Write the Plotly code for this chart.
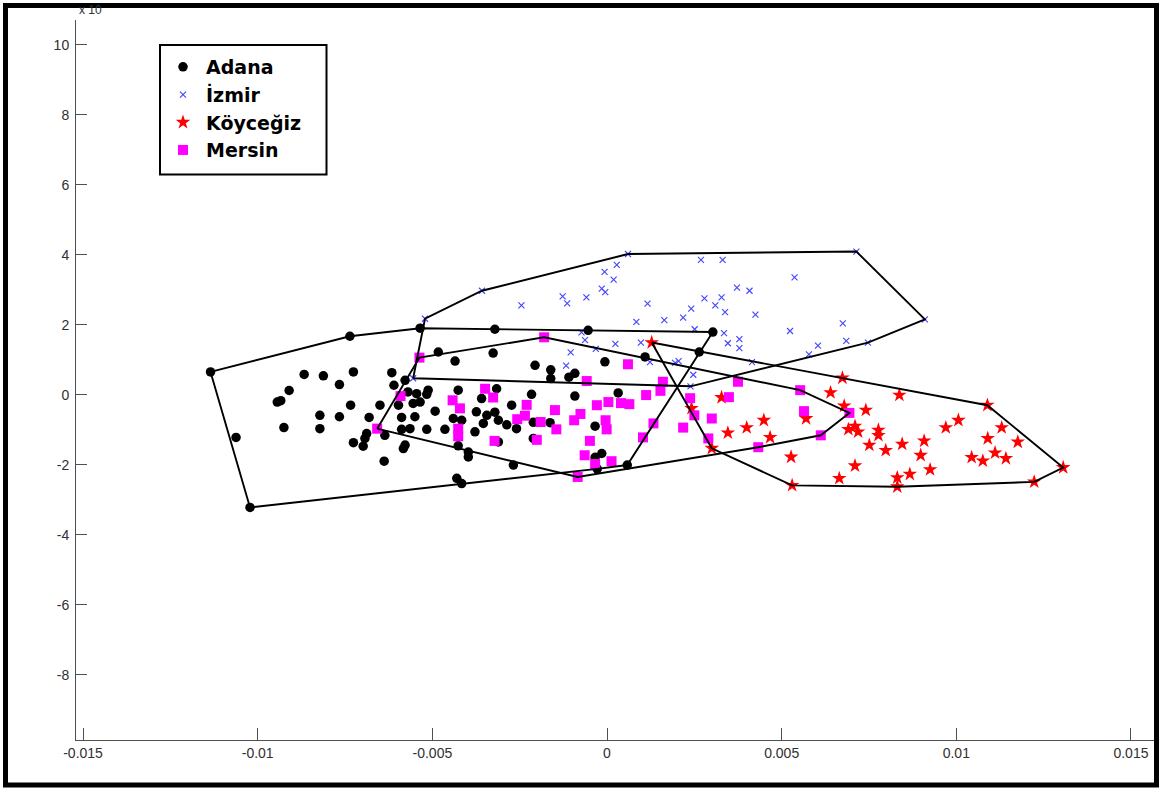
import plotly.graph_objects as go

# ---- data (x values in units of 1e-3, y values as shown on the axis, x 10^-3) ----
adana_x = [-11.35, -7.36, -8.67, -8.12, -7.26, -7.66, -9.10, -9.44, -9.34, -7.34,
           -8.22, -7.66, -9.25, -8.22, -10.62, -10.22, -6.16, -6.10, -5.78, -6.50,
           -6.81, -7.26, -6.98, -6.88, -6.93, -6.38, -6.36, -5.97, -5.88, -5.88,
           -5.78, -5.83, -5.35, -4.83, -4.35, -5.70, -5.45, -5.12, -5.16, -5.35,
           -5.55, -4.26, -4.92, -5.50, -4.40, -4.16, -3.74, -3.59, -3.44, -3.54,
           -5.64, -5.16, -4.64, -3.78, -4.26, -3.97, -3.97, -4.30, -4.16, -3.21,
           -3.26, -2.06, -1.61, -1.61, -1.09, -0.92, -3.16, -2.16, -2.73, -3.21,
           -3.11, -2.87, -2.59, -2.11, -1.63, -2.11, -3.11, -2.68, -0.54, 3.03,
           2.64, 1.09, -0.06, 0.32, -0.92, -0.34, -0.15, -0.34, -0.28, 0.58]
adana_y = [0.65, 1.67, 0.58, 0.54, 0.65, 0.29, 0.12, -0.21, -0.17, -0.30,
           -0.59, -0.63, -0.94, -0.97, -1.22, -3.22, 0.63, 0.27, 0.41, -0.30,
           -0.65, -1.37, -1.47, -1.11, -1.25, -1.90, -1.16, -0.30, -0.65, -0.99,
           -1.44, -1.54, 1.90, 1.22, 0.96, 0.08, 0.03, 0.13, 0.01, -0.21,
           -0.25, 0.13, -0.47, -0.63, -0.68, -0.73, -0.49, -0.11, -0.59, -0.82,
           -0.97, -0.99, -0.99, -1.06, -1.46, -1.64, -1.78, -2.39, -2.54, 1.87,
           1.19, 0.84, 0.71, 0.46, 0.50, 0.61, 0.17, 0.01, -0.30, -0.50,
           -0.73, -0.86, -0.97, -0.79, -0.80, -1.25, -1.35, -2.01, 1.84, 1.79,
           1.22, 1.08, 0.94, 0.05, -0.04, -0.90, -1.68, -1.79, -2.12, -2.01]

izmir_x = [-5.21, -5.55, -3.58, -2.45, -1.27, -1.14, -0.59, -0.15, -0.05, -0.07,
           0.19, 0.28, 0.60, 2.69, 3.31, 5.37, 7.14, 3.72, 4.08, 2.79,
           3.28, 3.10, 3.38, 4.25, 1.16, 2.41, 2.18, 1.64, 0.84, 2.51,
           3.35, 3.79, 3.79, 3.46, 5.24, 6.75, 6.85, 7.47, 6.04, 5.78,
           4.15, 9.10, -1.04, -1.17, -0.32, -0.63, -0.73, 0.24, 0.97, 1.23,
           1.95, 2.05, 2.47, 2.39]
izmir_y = [2.17, 0.47, 2.97, 2.55, 2.81, 2.61, 2.78, 3.03, 2.93, 3.51,
           3.29, 3.71, 4.02, 3.85, 3.85, 3.35, 4.09, 3.06, 2.97, 2.75,
           2.78, 2.55, 2.36, 2.29, 2.60, 2.46, 2.20, 2.13, 2.08, 1.87,
           1.76, 1.59, 1.33, 1.47, 1.82, 2.04, 1.54, 1.49, 1.40, 1.15,
           0.93, 2.15, 1.21, 0.83, 1.31, 1.56, 1.78, 1.45, 1.49, 0.93,
           0.91, 0.96, 0.57, 0.24]

koycegiz_x = [1.28, 6.74, 6.40, 8.37, 10.89, 3.28, 2.42, 6.79, 7.41, 5.70,
              4.49, 4.00, 3.46, 4.67, 6.91, 7.10, 7.19, 7.77, 7.77, 7.51,
              7.98, 8.45, 9.08, 8.98, 10.06, 9.70, 11.30, 10.90, 11.76, 10.44,
              10.76, 11.11, 11.42, 5.27, 7.10, 6.65, 8.31, 8.67, 9.25, 8.31,
              5.30, 12.23, 13.06, 3.00]
koycegiz_y = [1.49, 0.48, 0.06, -0.01, -0.30, -0.08, -0.39, -0.32, -0.44, -0.68,
              -0.73, -0.94, -1.09, -1.22, -0.99, -0.90, -1.06, -1.01, -1.16, -1.44,
              -1.59, -1.41, -1.32, -1.73, -0.73, -0.94, -0.94, -1.25, -1.35, -1.79,
              -1.89, -1.66, -1.82, -1.78, -2.03, -2.39, -2.37, -2.27, -2.14, -2.63,
              -2.59, -2.49, -2.08, -1.53]

mersin_x = [-5.37, -6.58, -5.91, -1.80, -3.49, -3.26, -4.42, -4.21, -2.30, -2.35,
            -2.57, -1.90, -1.49, -1.45, -4.26, -4.26, -3.22, -2.01, 0.60, -0.58,
            1.60, 1.53, 1.12, 2.38, 0.04, -0.29, 0.40, 0.64, -0.76, -0.94,
            -0.04, -0.01, 1.33, 2.50, 3.00, 2.18, 1.03, 2.90, -0.49, -0.64,
            -0.34, 0.13, -0.84, 3.49, 3.75, 4.33, 5.53, 5.64, 6.12, 6.94]
mersin_y = [1.06, -0.97, -0.04, 1.64, 0.17, -0.08, -0.16, -0.39, -0.29, -0.60,
            -0.70, -0.78, -0.44, -0.99, -0.97, -1.19, -1.32, -1.29, 0.87, 0.39,
            0.37, 0.11, -0.01, -0.10, -0.21, -0.30, -0.24, -0.27, -0.55, -0.73,
            -0.73, -0.99, -0.82, -0.59, -0.68, -0.94, -1.22, -1.25, -1.32, -1.73,
            -1.98, -1.90, -2.35, -0.07, 0.37, -1.50, 0.13, -0.47, -1.16, -0.52]

x_tick_vals = [-0.015, -0.01, -0.005, 0, 0.005, 0.01, 0.015]
x_tick_text = ["-0.015", "-0.01", "-0.005", "0", "0.005", "0.01", "0.015"]
y_tick_vals = [-8, -6, -4, -2, 0, 2, 4, 6, 8, 10]
y_tick_text = ["-8", "-6", "-4", "-2", "0", "2", "4", "6", "8", "10"]

XSCALE = 1e-3


def convex_hull(xs, ys):
    pts = sorted(set(zip(xs, ys)))

    def cross(o, a, b):
        return (a[0] - o[0]) * (b[1] - o[1]) - (a[1] - o[1]) * (b[0] - o[0])

    lower = []
    for p in pts:
        while len(lower) >= 2 and cross(lower[-2], lower[-1], p) <= 0:
            lower.pop()
        lower.append(p)
    upper = []
    for p in reversed(pts):
        while len(upper) >= 2 and cross(upper[-2], upper[-1], p) <= 0:
            upper.pop()
        upper.append(p)
    hull = lower[:-1] + upper[:-1]
    hull.append(hull[0])
    return [p[0] for p in hull], [p[1] for p in hull]


groups = [
    ("Adana", adana_x, adana_y, dict(symbol="circle", size=9.5, color="black")),
    ("İzmir", izmir_x, izmir_y, dict(symbol="x-thin", size=6, color="#4848ff",
                                     line=dict(width=1.2, color="#4848ff"))),
    ("Köyceğiz", koycegiz_x, koycegiz_y, dict(symbol="star", size=11, color="#ff0000",
                                             line=dict(width=0))),
    ("Mersin", mersin_x, mersin_y, dict(symbol="square", size=10, color="#ff00ff",
                                       line=dict(width=0))),
]

fig = go.Figure()
for name, gx, gy, mk in groups:
    fig.add_trace(go.Scatter(
        x=[v * XSCALE for v in gx], y=gy, mode="markers", name=name, marker=mk))

for name, gx, gy, mk in groups:
    hx, hy = convex_hull(gx, gy)
    fig.add_trace(go.Scatter(
        x=[v * XSCALE for v in hx], y=hy, mode="lines",
        line=dict(color="black", width=1.9), showlegend=False, hoverinfo="skip"))

W, H = 1162, 790
ML, MR, MT, MB = 76, 7, 20, 50
pw, ph = W - ML - MR, H - MT - MB


def px_x(p):
    return (p - ML) / pw


def px_y(p):
    return 1 - (p - MT) / ph


TICKFAMILY = "Liberation Sans, Arial, sans-serif"
tickfont = dict(family=TICKFAMILY, size=14, color="#303030")
AXCOLOR = "#505050"

fig.update_layout(
    width=W, height=H,
    margin=dict(l=ML, r=MR, t=MT, b=MB, pad=0),
    paper_bgcolor="white", plot_bgcolor="white",
    showlegend=True,
    legend=dict(
        x=px_x(160), y=px_y(48), xanchor="left", yanchor="top",
        bgcolor="rgba(0,0,0,0)", borderwidth=0,
        font=dict(family="DejaVu Sans, Verdana, sans-serif", size=19,
                  color="black", weight="bold"),
        itemsizing="trace", tracegroupgap=0, itemwidth=36,
    ),
    xaxis=dict(
        range=[(ML - 607) / 34.93 * XSCALE, (W - MR - 607) / 34.93 * XSCALE],
        tickvals=x_tick_vals, ticktext=x_tick_text,
        ticks="inside", ticklen=12, tickcolor=AXCOLOR, tickwidth=1,
        showline=True, linecolor=AXCOLOR, linewidth=1,
        showgrid=False, zeroline=False, tickfont=tickfont,
        ticklabelstandoff=0,
    ),
    yaxis=dict(
        range=[(394.7 - (H - MB)) / 35.0, (394.7 - MT) / 35.0],
        tickvals=y_tick_vals, ticktext=y_tick_text,
        ticks="inside", ticklen=11, tickcolor=AXCOLOR, tickwidth=1,
        showline=True, linecolor=AXCOLOR, linewidth=1,
        showgrid=False, zeroline=False, tickfont=tickfont,
        ticklabelstandoff=3,
    ),
    annotations=[dict(
        text="x 10", xref="paper", yref="paper", x=px_x(77), y=px_y(19),
        xanchor="left", yanchor="bottom", showarrow=False,
        font=dict(family=TICKFAMILY, size=12, color="#303030"),
    )],
    shapes=[
        dict(type="rect", xref="paper", yref="paper", layer="above",
             x0=px_x(160), x1=px_x(326.5), y0=px_y(174.5), y1=px_y(45),
             line=dict(color="black", width=2), fillcolor="rgba(0,0,0,0)"),
        dict(type="rect", xref="paper", yref="paper", layer="above",
             x0=px_x(5.5), x1=px_x(1156.5), y0=px_y(785), y1=px_y(5.5),
             line=dict(color="black", width=5), fillcolor="rgba(0,0,0,0)"),
    ],
)

fig.write_html("out.html")
